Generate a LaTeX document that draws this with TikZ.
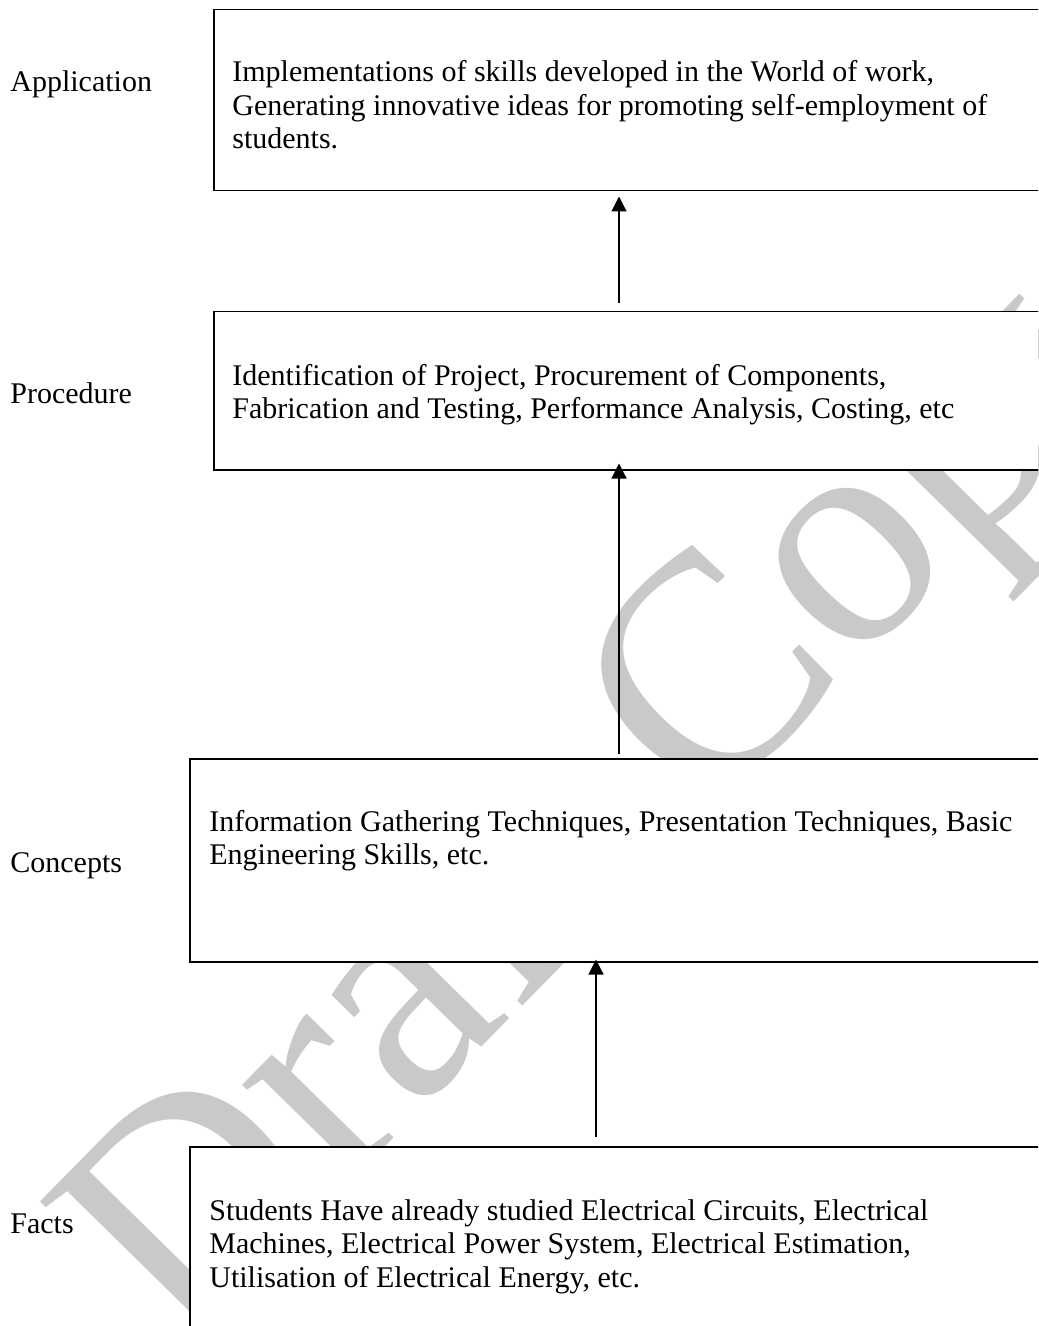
\documentclass[tikz,border=0pt]{standalone}
\usepackage{fontspec}
\setmainfont{Liberation Serif}
\usetikzlibrary{arrows.meta}
\begin{document}
\begin{tikzpicture}[x=0.5pt,y=-0.5pt,
  box/.style={draw, fill=white, line width=0.75pt, inner sep=0pt, anchor=north west},
  txt/.style={anchor=base west, inner sep=0pt, font=\fontsize{15}{16.75}\selectfont},
  lbl/.style={anchor=base west, inner sep=0pt, font=\fontsize{15}{16.75}\selectfont},
  arr/.style={line width=0.6pt, -{Triangle[length=7.5pt,width=7.5pt]}},
  wm/.style={text=black!21, inner sep=0pt, font=\fontsize{158}{158}\selectfont}]
\clip (0,0) rectangle (1038,1326);
\fill[white] (0,0) rectangle (1038,1326);
% watermark
\node[wm, rotate=45.5, anchor=base west] (wmk) at (181,1354) {Draft Copy};
% boxes
\node[box, minimum width=423.5pt, minimum height=90.5pt] (B1) at (213,9) {};
\node[box, minimum width=423.5pt, minimum height=79pt] (B2) at (213,311) {};
\node[box, minimum width=435.5pt, minimum height=101.5pt] (B3) at (189,758) {};
\node[box, minimum width=435.5pt, minimum height=90.5pt] (B4) at (189,1146) {};
% box texts
\node[txt] (T1) at (232,82) {\parbox[t]{420pt}{\raggedright Implementations of skills developed in the World of work,\\ Generating innovative ideas for promoting self-employment of\\ students.}};
\node[txt] (T2) at (232,385.5) {\parbox[t]{420pt}{\raggedright Identification of Project, Procurement of Components,\\ Fabrication and Testing, Performance Analysis, Costing, etc}};
\node[txt] (T3) at (209,831) {\parbox[t]{430pt}{\raggedright Information Gathering Techniques, Presentation Techniques, Basic\\ Engineering Skills, etc.}};
\node[txt] (T4) at (209,1220) {\parbox[t]{430pt}{\raggedright Students Have already studied Electrical Circuits, Electrical\\ Machines, Electrical Power System, Electrical Estimation,\\ Utilisation of Electrical Energy, etc.}};
% labels
\node[lbl] (L1) at (10,92) {Application};
\node[lbl] (L2) at (10,403) {Procedure};
\node[lbl] (L3) at (10,872) {Concepts};
\node[lbl] (L4) at (10,1233) {Facts};
% arrows
\coordinate (ax1) at (619,0);
\coordinate (ax2) at (596,0);
\draw[arr, shorten <=4pt, shorten >=2.5pt] (B2.north -| ax1) -- (B1.south -| ax1);
\draw[arr, shorten <=2pt, shorten >=-3.5pt] (B3.north -| ax1) -- (B2.south -| ax1);
\draw[arr, shorten <=4.5pt, shorten >=-1.5pt] (B4.north -| ax2) -- (B3.south -| ax2);
\end{tikzpicture}
\end{document}
